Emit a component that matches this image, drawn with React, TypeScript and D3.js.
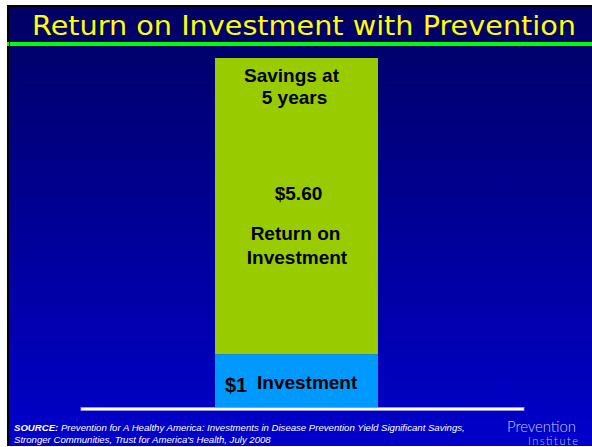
import { useRef, useEffect } from "react";
import * as d3 from "d3";

// stacked single bar: $1 invested, $5.60 returned after 5 years
const bars = ["5 years"];
const segments = ["Investment", "Return on Investment"];
const values = [1, 5.6];
const sourceLines = [
  "Prevention for A Healthy America: Investments in Disease Prevention Yield Significant Savings,",
  "Stronger Communities, Trust for America's Health, July 2008",
];

const W = 592;
const H = 447;

const App = () => {
  const svgRef = useRef<SVGSVGElement>(null);

  useEffect(() => {
    if (!svgRef.current) return;
    const svg = d3.select(svgRef.current);
    svg.selectAll("*").remove();

    const defs = svg.append("defs");
    const grad = defs
      .append("linearGradient")
      .attr("id", "bg")
      .attr("x1", 0)
      .attr("y1", 0)
      .attr("x2", 0)
      .attr("y2", 1);
    grad.append("stop").attr("offset", "0%").attr("stop-color", "#000064");
    grad.append("stop").attr("offset", "12%").attr("stop-color", "#000070");
    grad.append("stop").attr("offset", "100%").attr("stop-color", "#0000cc");

    // slide background + dark frame on top/left
    svg.append("rect").attr("x", 7).attr("y", 5).attr("width", W - 7).attr("height", H - 6).attr("fill", "#000");
    svg.append("rect").attr("x", 9).attr("y", 7).attr("width", W - 9).attr("height", H - 8).attr("fill", "url(#bg)");

    // title
    svg
      .append("text")
      .attr("x", 304)
      .attr("y", 35)
      .attr("text-anchor", "middle")
      .attr("font-family", "DejaVu Sans, Verdana, sans-serif")
      .attr("font-size", 27)
      .attr("fill", "#ffff00")
      .attr("textLength", 544)
      .attr("lengthAdjust", "spacingAndGlyphs")
      .text("Return on Investment with Prevention");

    svg.append("rect").attr("x", 7).attr("y", 42).attr("width", W - 7).attr("height", 4).attr("fill", "#00ff00");
    svg.append("rect").attr("x", 9).attr("y", 42).attr("width", 1).attr("height", 4).attr("fill", "#002200");

    const xScale = d3.scaleBand().domain(bars).range([215, 378]).padding(0);
    const yScale = d3.scaleLinear().domain([0, 6.6]).range([407, 58]);
    const color = d3.scaleOrdinal<string, string>().domain(segments).range(["#0099ff", "#99cc00"]);

    const ends = Array.from(d3.cumsum(values));
    const stacked = segments.map((s, i) => ({
      key: s,
      y0: i === 0 ? 0 : ends[i - 1],
      y1: ends[i],
    }));

    const bx = xScale(bars[0]) as number;
    const bw = xScale.bandwidth();
    const cx = bx + bw / 2;

    svg
      .append("g")
      .selectAll("rect")
      .data(stacked)
      .join("rect")
      .attr("x", bx)
      .attr("width", bw)
      .attr("y", (d) => yScale(d.y1))
      .attr("height", (d) => yScale(d.y0) - yScale(d.y1))
      .attr("fill", (d) => color(d.key));

    // baseline
    svg
      .append("rect")
      .attr("x", 81)
      .attr("y", 407.5)
      .attr("width", 443)
      .attr("height", 3)
      .attr("fill", "#ffffff")
      .attr("stroke", "#9999ee")
      .attr("stroke-width", 0.8);

    const label = (x: number, y: number, t: string, size = 19, anchor = "middle") =>
      svg
        .append("text")
        .attr("x", x)
        .attr("y", y)
        .attr("text-anchor", anchor)
        .attr("font-family", "Liberation Sans, Arial, sans-serif")
        .attr("font-weight", "bold")
        .attr("font-size", size)
        .attr("fill", "#000")
        .text(t);

    const top = yScale(ends[1]);
    label(cx - 5, top + 24, "Savings at");
    label(cx - 2, top + 46, bars[0]);
    label(cx + 2, 200, "$" + values[1].toFixed(2));
    label(cx - 1, 240, "Return on");
    label(cx + 0.5, 264, "Investment");
    label(225, 392, "$" + values[0], 20, "start");
    label(257, 389, segments[0], 19, "start");

    // source note
    const src = svg
      .append("text")
      .attr("font-family", "Liberation Sans, Arial, sans-serif")
      .attr("font-style", "italic")
      .attr("font-size", 9.6)
      .attr("fill", "#ffffff");
    const l1 = src.append("tspan").attr("x", 14).attr("y", 431);
    l1.append("tspan").attr("font-weight", "bold").text("SOURCE: ");
    l1.append("tspan").text(sourceLines[0]);
    src.append("tspan").attr("x", 14).attr("y", 443).text(sourceLines[1]);

    // logo
    svg
      .append("text")
      .attr("x", 507)
      .attr("y", 432)
      .attr("font-family", "Lato, Open Sans, sans-serif")
      .attr("font-weight", 300)
      .attr("font-size", 15)
      .attr("fill", "#c8c8e8")
      .attr("textLength", 69)
      .text("Prevention");
    svg
      .append("text")
      .attr("x", 528)
      .attr("y", 445)
      .attr("font-family", "Lato, Open Sans, sans-serif")
      .attr("font-weight", 300)
      .attr("font-size", 11)
      .attr("fill", "#c8c8e8")
      .attr("textLength", 50)
      .text("Institute");
  }, []);

  return (
    <svg
      ref={svgRef}
      width={W}
      height={H}
      style={{ position: "absolute", left: 0, top: 0, display: "block", background: "#fff" }}
    ></svg>
  );
};

export default App;
